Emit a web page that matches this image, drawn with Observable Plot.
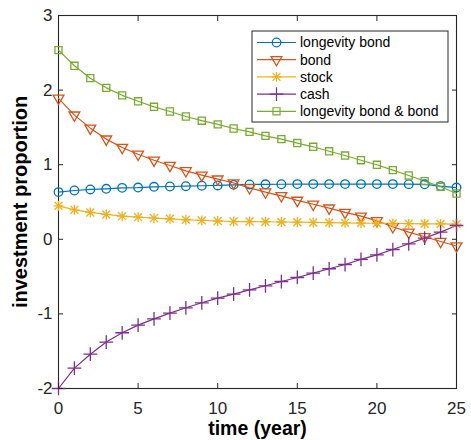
<!DOCTYPE html>
<html><head><meta charset="utf-8">
<script src="https://cdn.jsdelivr.net/npm/d3@7"></script>
<script src="https://cdn.jsdelivr.net/npm/@observablehq/plot@0.6"></script>
<style>body{margin:0;background:#fff}</style>
</head><body><div id="chart"></div>
<script>
const years = [0,1,2,3,4,5,6,7,8,9,10,11,12,13,14,15,16,17,18,19,20,21,22,23,24,25];
const seriesNames = ["longevity bond","bond","stock","cash","longevity bond & bond"];
const longevityBond = [0.633,0.654,0.668,0.677,0.69,0.694,0.704,0.708,0.712,0.718,0.722,0.73,0.735,0.737,0.738,0.74,0.74,0.74,0.74,0.74,0.74,0.74,0.739,0.737,0.713,0.694];
const bond = [1.89,1.665,1.49,1.343,1.23,1.14,1.06,0.99,0.918,0.86,0.807,0.755,0.69,0.633,0.583,0.522,0.47,0.418,0.36,0.31,0.248,0.168,0.096,0.034,-0.03,-0.09];
const stock = [0.449,0.395,0.36,0.333,0.31,0.297,0.284,0.275,0.262,0.253,0.245,0.238,0.238,0.235,0.232,0.229,0.226,0.223,0.221,0.218,0.215,0.213,0.21,0.208,0.206,0.204];
const cash = [-2.0,-1.727,-1.54,-1.378,-1.253,-1.15,-1.066,-0.99,-0.918,-0.851,-0.788,-0.735,-0.677,-0.623,-0.566,-0.512,-0.453,-0.395,-0.338,-0.27,-0.208,-0.137,-0.06,0.016,0.096,0.185];
const longevityBondAndBond = [2.536,2.326,2.16,2.03,1.93,1.85,1.776,1.713,1.646,1.59,1.54,1.485,1.44,1.387,1.343,1.29,1.24,1.18,1.123,1.06,0.999,0.928,0.855,0.78,0.704,0.614];
const xTicks = [0,5,10,15,20,25];
const yTicks = [-2,-1,0,1,2,3];
const colors = ["#0072BD","#D95319","#EDB120","#7E2F8E","#77AC30"];
const xLabel = "time (year)";
const yLabel = "investment proportion";

const seriesValues = [longevityBond, bond, stock, cash, longevityBondAndBond];
const rows = seriesNames.flatMap((name, s) => years.map((t, i) => ({series: name, t, v: seriesValues[s][i]})));
const of = (name) => rows.filter(d => d.series === name);

// marker styles (MATLAB: o, v, *, +, s)
const markers = [
  [{symbol: "circle", r: 4.3}],
  [{symbol: "triangle", r: 4.0, rotate: 180}],
  [{symbol: "plus", r: 3.3}, {symbol: "times", r: 3.7}],
  [{symbol: "plus", r: 4.5}],
  [{symbol: "square", r: 4.0}]
];
const axisColor = "#262626";
const W = 471, H = 440, mL = 58, mR = 15, mT = 15, mB = 52;

const dotMarks = seriesNames.flatMap((name, s) => markers[s].map(m =>
  Plot.dot(of(name), {x: "t", y: "v", symbol: m.symbol, r: m.r, rotate: m.rotate || 0,
    stroke: colors[s], fill: "none", strokeWidth: 1.3})));

const chart = Plot.plot({
  width: W, height: H,
  marginLeft: mL, marginRight: mR, marginTop: mT, marginBottom: mB,
  style: {fontFamily: "'Liberation Sans', Arial, sans-serif", background: "white", color: axisColor},
  x: {domain: [0, 25], label: null},
  y: {domain: [-2, 3], label: null},
  color: {domain: seriesNames, range: colors},
  marks: [
    Plot.frame({stroke: axisColor, strokeWidth: 1.1}),
    Plot.line(rows, {x: "t", y: "v", z: "series", stroke: "series", strokeWidth: 1.2}),
    ...dotMarks,
    Plot.axisX({ticks: xTicks, tickSize: 0, tickPadding: 13, fontSize: 17, tickFormat: d => String(d), fill: axisColor}),
    Plot.axisY({ticks: yTicks, tickSize: 0, tickPadding: 6, fontSize: 17, tickFormat: d => String(d), fill: axisColor}),
    Plot.axisX({anchor: "bottom", ticks: xTicks, tickSize: -5, tickFormat: () => "", stroke: axisColor}),
    Plot.axisX({anchor: "top", ticks: xTicks, tickSize: -5, tickFormat: () => "", stroke: axisColor}),
    Plot.axisY({anchor: "left", ticks: yTicks, tickSize: -5, tickFormat: () => "", stroke: axisColor}),
    Plot.axisY({anchor: "right", ticks: yTicks, tickSize: -5, tickFormat: () => "", stroke: axisColor}),
    Plot.text([xLabel], {frameAnchor: "bottom", dy: 40.5, text: d => d, textAnchor: "middle", lineAnchor: "middle", fontSize: 19.5, fontWeight: "bold", fill: "black"}),
    Plot.text([yLabel], {frameAnchor: "left", dx: -37.5, rotate: -90, text: d => d, textAnchor: "middle", lineAnchor: "middle", fontSize: 20, fontWeight: "bold", fill: "black"})
  ]
});
document.getElementById("chart").appendChild(chart);

// legend (layout in pixels, top-right inside the axes)
const svg = d3.select(chart);
const lg = svg.append("g").attr("font-family", "'Liberation Sans', Arial, sans-serif").attr("font-size", 14).attr("text-anchor", "start");
const box = {x: 252, y: 31, w: 196, h: 91};
lg.append("rect").attr("x", box.x).attr("y", box.y).attr("width", box.w).attr("height", box.h)
  .attr("fill", "white").attr("stroke", axisColor).attr("stroke-width", 1);
const symMap = {circle: d3.symbolCircle, triangle: d3.symbolTriangle, plus: d3.symbolPlus, times: d3.symbolTimes, square: d3.symbolSquare};
seriesNames.forEach((name, s) => {
  const cy = box.y + 11.5 + s * 17.2;
  lg.append("line").attr("x1", box.x + 5).attr("x2", box.x + 44).attr("y1", cy).attr("y2", cy)
    .attr("stroke", colors[s]).attr("stroke-width", 1.2);
  markers[s].forEach(m => {
    lg.append("path").attr("d", d3.symbol(symMap[m.symbol], Math.PI * m.r * m.r)())
      .attr("transform", `translate(${box.x + 24.5},${cy}) rotate(${m.rotate || 0})`)
      .attr("fill", "none").attr("stroke", colors[s]).attr("stroke-width", 1.2);
  });
  lg.append("text").attr("x", box.x + 48).attr("y", cy).attr("dy", "0.35em").attr("fill", "black").text(name);
});
</script>
</body></html>
